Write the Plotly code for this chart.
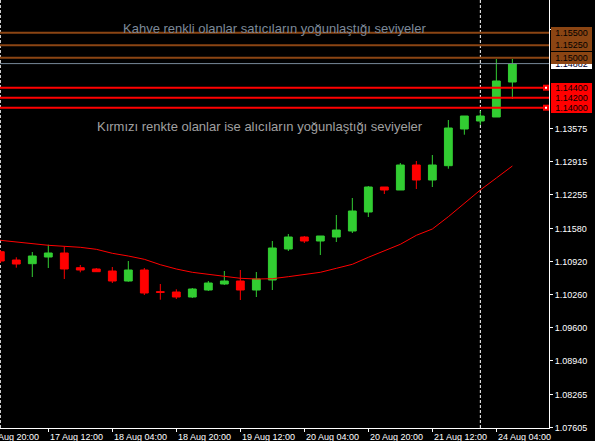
import plotly.graph_objects as go

# ---- data (EURUSD H4) ----
bar_times = [
    "17 Aug 00:00", "17 Aug 04:00", "17 Aug 08:00", "17 Aug 12:00", "17 Aug 16:00", "17 Aug 20:00",
    "18 Aug 00:00", "18 Aug 04:00", "18 Aug 08:00", "18 Aug 12:00", "18 Aug 16:00", "18 Aug 20:00",
    "19 Aug 00:00", "19 Aug 04:00", "19 Aug 08:00", "19 Aug 12:00", "19 Aug 16:00", "19 Aug 20:00",
    "20 Aug 00:00", "20 Aug 04:00", "20 Aug 08:00", "20 Aug 12:00", "20 Aug 16:00", "20 Aug 20:00",
    "21 Aug 00:00", "21 Aug 04:00", "21 Aug 08:00", "21 Aug 12:00", "21 Aug 16:00", "21 Aug 20:00",
    "24 Aug 00:00", "24 Aug 04:00", "24 Aug 08:00",
]
opens = [1.11120, 1.10954, 1.10880, 1.11014, 1.11094, 1.10800, 1.10774, 1.10734, 1.10534, 1.10754, 1.10320,
         1.10314, 1.10214, 1.10354, 1.10474, 1.10534, 1.10354, 1.10554, 1.11174, 1.11414, 1.11334, 1.11414,
         1.11534, 1.11914, 1.12414, 1.12354, 1.12854, 1.12554, 1.12840, 1.13574, 1.13734, 1.13814, 1.14514]
highs = [1.11154, 1.11008, 1.11114, 1.11260, 1.11228, 1.10854, 1.10794, 1.10814, 1.10934, 1.10794, 1.10474,
         1.10368, 1.10394, 1.10534, 1.10734, 1.10754, 1.10714, 1.11334, 1.11474, 1.11434, 1.11434, 1.11854,
         1.12194, 1.12434, 1.12414, 1.12894, 1.12934, 1.13054, 1.13754, 1.13834, 1.13934, 1.14974, 1.14974]
lows = [1.10894, 1.10800, 1.10614, 1.10794, 1.10574, 1.10708, 1.10720, 1.10494, 1.10520, 1.10254, 1.10160,
        1.10174, 1.10194, 1.10334, 1.10454, 1.10154, 1.10214, 1.10354, 1.11134, 1.11294, 1.11054, 1.11314,
        1.11494, 1.11814, 1.12274, 1.12354, 1.12374, 1.12414, 1.12780, 1.13460, 1.13654, 1.13814, 1.14174]
closes = [1.10934, 1.10874, 1.11034, 1.11094, 1.10774, 1.10754, 1.10720, 1.10534, 1.10754, 1.10294, 1.10308,
          1.10214, 1.10374, 1.10494, 1.10534, 1.10354, 1.10574, 1.11194, 1.11414, 1.11334, 1.11434, 1.11554,
          1.11934, 1.12414, 1.12354, 1.12854, 1.12554, 1.12854, 1.13594, 1.13834, 1.13834, 1.14534, 1.14874]
moving_avg = [1.11348, 1.11314, 1.11284, 1.11248, 1.11228, 1.11208, 1.11168, 1.11088, 1.11034, 1.10968, 1.10860,
              1.10774, 1.10708, 1.10668, 1.10620, 1.10588, 1.10574, 1.10580, 1.10620, 1.10668, 1.10708, 1.10788,
              1.10868, 1.11008, 1.11134, 1.11268, 1.11448, 1.11574, 1.11820, 1.12088, 1.12354, 1.12594, 1.12834]

seller_levels = [1.15500, 1.15250, 1.15000]
buyer_levels = [1.14400, 1.14200, 1.14000]
bid_level = 1.14882

price_ticks = [1.07605, 1.08265, 1.08940, 1.09600, 1.10260, 1.10920, 1.11580,
               1.12255, 1.12915, 1.13575, 1.15555]
time_tick_index = [-1, 3, 7, 11, 15, 19, 23, 27, 31]
time_tick_labels = ["16 Aug 20:00", "17 Aug 12:00", "18 Aug 04:00", "18 Aug 20:00", "19 Aug 12:00",
                    "20 Aug 04:00", "20 Aug 20:00", "21 Aug 12:00", "24 Aug 04:00"]
week_separator_index = [0, 30]

text_sellers = "Kahve renkli olanlar satıcıların yoğunlaştığı seviyeler"
text_buyers = "Kırmızı renkte olanlar ise alıcıların yoğunlaştığı seviyeler"

# ---- style ----
W, H = 595, 441
ML, MR, MT, MB = 0, 46, 0, 13
PW = W - ML - MR
PH = H - MT - MB
XR = [-0.019, 34.29]
YR = [1.07594, 1.16154]
GREEN = "#32CD32"
RED = "#FF0000"
BROWN = "#8B4513"
FONT = "Liberation Sans"

idx = list(range(len(bar_times)))

fig = go.Figure()
fig.add_trace(go.Candlestick(
    x=idx, open=opens, high=highs, low=lows, close=closes,
    increasing=dict(line=dict(color=GREEN, width=1), fillcolor=GREEN),
    decreasing=dict(line=dict(color=RED, width=1), fillcolor=RED),
    hoverinfo="skip", showlegend=False,
))
fig.add_trace(go.Scatter(
    x=idx, y=moving_avg, mode="lines", line=dict(color=RED, width=1),
    hoverinfo="skip", showlegend=False,
))

shapes = []
for i in week_separator_index:
    shapes.append(dict(type="line", xref="x", yref="paper", x0=i, x1=i, y0=0, y1=1,
                       line=dict(color="white", width=1, dash="3px,2px"), layer="below"))
shapes.append(dict(type="line", xref="paper", yref="y", x0=0, x1=1, y0=bid_level, y1=bid_level,
                   line=dict(color="#778899", width=1), layer="above"))
for lv in seller_levels:
    shapes.append(dict(type="line", xref="paper", yref="y", x0=0, x1=1, y0=lv, y1=lv,
                       line=dict(color=BROWN, width=2), layer="above"))
for lv in buyer_levels:
    shapes.append(dict(type="line", xref="paper", yref="y", x0=0, x1=1, y0=lv, y1=lv,
                       line=dict(color=RED, width=2), layer="above"))
for lv in (buyer_levels[0], buyer_levels[-1]):
    shapes.append(dict(type="rect", xref="paper", yref="y", xsizemode="pixel", ysizemode="pixel",
                       xanchor=1, yanchor=lv, x0=-6, x1=0, y0=-3, y1=3,
                       fillcolor=RED, line=dict(width=0), layer="above"))
    shapes.append(dict(type="rect", xref="paper", yref="y", xsizemode="pixel", ysizemode="pixel",
                       xanchor=1, yanchor=lv, x0=-4, x1=-2, y0=-1, y1=1,
                       fillcolor="white", line=dict(width=0), layer="above"))

annotations = []
# x-axis time labels (left aligned at the tick, MT4 style)
for i, lab in zip(time_tick_index, time_tick_labels):
    xp = (i - XR[0]) / (XR[1] - XR[0])
    annotations.append(dict(text=lab, xref="paper", yref="paper", x=xp, y=0, xanchor="left", yanchor="top",
                            xshift=1, yshift=-3, showarrow=False, borderpad=0,
                            font=dict(family=FONT, size=9, color="white")))
# price boxes on the right scale
box_x = (PW + 2) / PW
annotations.append(dict(text=f"{bid_level:.5f}", xref="paper", yref="y", x=box_x, y=bid_level,
                        xanchor="left", yanchor="middle", showarrow=False, bgcolor="white",
                        width=41, height=11, borderpad=0, borderwidth=0, align="center",
                        font=dict(family=FONT, size=9, color="#000030")))
for lv in seller_levels[::-1]:
    annotations.append(dict(text=f"{lv:.5f}", xref="paper", yref="y", x=box_x, y=lv,
                            xanchor="left", yanchor="middle", showarrow=False, bgcolor=BROWN,
                            width=41, height=12, borderpad=0, borderwidth=0, align="center",
                            font=dict(family=FONT, size=9, color="black")))
for lv in buyer_levels:
    annotations.append(dict(text=f"{lv:.5f}", xref="paper", yref="y", x=box_x, y=lv,
                            xanchor="left", yanchor="middle", showarrow=False, bgcolor=RED,
                            width=41, height=10, borderpad=0, borderwidth=0, align="center",
                            font=dict(family=FONT, size=9, color="black")))
# explanatory texts
annotations.append(dict(text=text_sellers, xref="paper", yref="paper", x=122 / PW, y=1 - 28 / PH,
                        xanchor="left", yanchor="middle", showarrow=False, borderpad=0,
                        font=dict(family=FONT, size=13, color="#7d8a99")))
annotations.append(dict(text=text_buyers, xref="paper", yref="paper", x=96 / PW, y=1 - 126.5 / PH,
                        xanchor="left", yanchor="middle", showarrow=False, borderpad=0,
                        font=dict(family=FONT, size=13, color="#a0a0a0")))

fig.update_layout(
    width=W, height=H, margin=dict(l=ML, r=MR, t=MT, b=MB, autoexpand=False),
    paper_bgcolor="black", plot_bgcolor="black",
    showlegend=False, hovermode=False,
    shapes=shapes, annotations=annotations,
    font=dict(family=FONT, size=9, color="white"),
    xaxis=dict(range=XR, showgrid=False, zeroline=False, showline=True, linecolor="white", linewidth=1,
               ticks="outside", ticklen=3, tickcolor="white", automargin=False,
               tickvals=[i for i in time_tick_index if i >= 0], showticklabels=False,
               rangeslider=dict(visible=False), fixedrange=True),
    yaxis=dict(range=YR, side="right", showgrid=False, zeroline=False, showline=True, linecolor="white",
               linewidth=1, ticks="outside", ticklen=3, tickcolor="white", automargin=False,
               tickvals=price_ticks, ticktext=[f"{v:.5f}" for v in price_ticks],
               tickfont=dict(family=FONT, size=9, color="white"), fixedrange=True),
)

fig.write_html(
    "out.html",
    config={"displayModeBar": False, "staticPlot": True},
    post_script="document.body.style.margin='0';document.body.style.background='black';",
)
